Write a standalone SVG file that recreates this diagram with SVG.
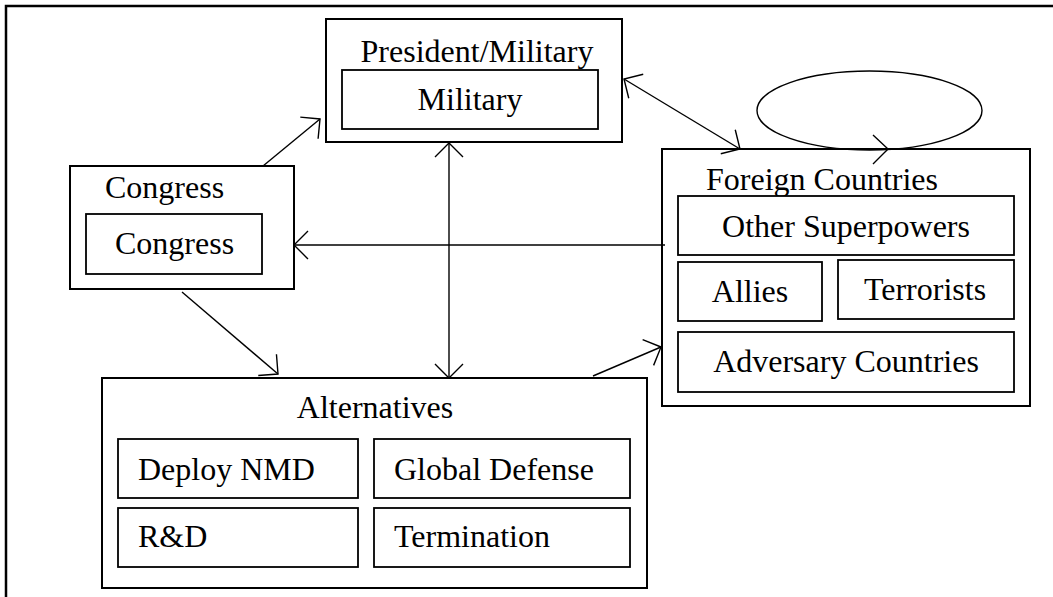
<svg xmlns="http://www.w3.org/2000/svg" width="1053" height="597" viewBox="0 0 1053 597">
  <style>
    .box { fill: #fff; stroke: #000; stroke-width: 2; }
    .inner { fill: #fff; stroke: #000; stroke-width: 1.8; }
    .lbl { font-family: "Liberation Serif", "Times New Roman", serif; font-size: 32px; fill: #000; }
    .mid { text-anchor: middle; }
    .conn { fill: none; stroke: #000; stroke-width: 1.4; }
  </style>
  <defs>
    <marker id="open" markerUnits="userSpaceOnUse" markerWidth="40" markerHeight="40" refX="20" refY="20" viewBox="0 0 40 40" orient="auto-start-reverse" overflow="visible">
      <path d="M6,6 L20,20 L6,34" fill="none" stroke="#000" stroke-width="1.4"/>
    </marker>
  </defs>

  <rect width="1053" height="597" fill="#fff"/>
  <!-- page frame (only top and left edges fall inside the canvas) -->
  <path d="M6,597 V6 H1053" fill="none" stroke="#000" stroke-width="2.5"/>

  <g id="president">
    <rect class="box" x="326" y="19" width="296" height="123"/>
    <text class="lbl mid" x="477" y="62">President/Military</text>
    <rect class="inner" x="342" y="70" width="256" height="59"/>
    <text class="lbl mid" x="470" y="110">Military</text>
  </g>

  <g id="congress">
    <rect class="box" x="70" y="166" width="224" height="123"/>
    <text class="lbl" x="105" y="198">Congress</text>
    <rect class="inner" x="86" y="214" width="176" height="60"/>
    <text class="lbl" x="115" y="254">Congress</text>
  </g>

  <g id="foreign">
    <rect class="box" x="662" y="149" width="368" height="257"/>
    <text class="lbl" x="706" y="190">Foreign Countries</text>
    <rect class="inner" x="678" y="196" width="336" height="59"/>
    <text class="lbl mid" x="846" y="237">Other Superpowers</text>
    <rect class="inner" x="678" y="262" width="144" height="59"/>
    <text class="lbl mid" x="750" y="302">Allies</text>
    <rect class="inner" x="838" y="260" width="176" height="59"/>
    <text class="lbl mid" x="925" y="300">Terrorists</text>
    <rect class="inner" x="678" y="332" width="336" height="60"/>
    <text class="lbl mid" x="846" y="372">Adversary Countries</text>
  </g>

  <g id="alternatives">
    <rect class="box" x="102" y="378" width="545" height="210"/>
    <text class="lbl mid" x="375" y="418">Alternatives</text>
    <rect class="inner" x="118" y="439" width="240" height="59"/>
    <text class="lbl" x="138" y="480">Deploy NMD</text>
    <rect class="inner" x="374" y="439" width="256" height="59"/>
    <text class="lbl" x="394" y="480">Global Defense</text>
    <rect class="inner" x="118" y="508" width="240" height="59"/>
    <text class="lbl" x="138" y="547">R&amp;D</text>
    <rect class="inner" x="374" y="508" width="256" height="59"/>
    <text class="lbl" x="394" y="547">Termination</text>
  </g>

  <g id="connectors">
    <!-- Congress to President/Military -->
    <path class="conn" d="M263,166 L320,119" marker-end="url(#open)"/>
    <!-- President/Military to Foreign Countries, both ways -->
    <path class="conn" d="M624,79 L740,149" marker-start="url(#open)" marker-end="url(#open)"/>
    <!-- President/Military to Alternatives, both ways -->
    <path class="conn" d="M449,143 L449,378" marker-start="url(#open)" marker-end="url(#open)"/>
    <!-- Foreign Countries to Congress -->
    <path class="conn" d="M665,245 L294,245" marker-end="url(#open)"/>
    <!-- Congress to Alternatives -->
    <path class="conn" d="M182,292 L278,374" marker-end="url(#open)"/>
    <!-- Alternatives to Foreign Countries -->
    <path class="conn" d="M593,376 L661,347" marker-end="url(#open)"/>
    <!-- self loop on Foreign Countries -->
    <ellipse class="conn" cx="869.5" cy="110.5" rx="112.5" ry="39.5"/>
    <path class="conn" d="M873,135 L888,149 L873,164"/>
  </g>
</svg>
